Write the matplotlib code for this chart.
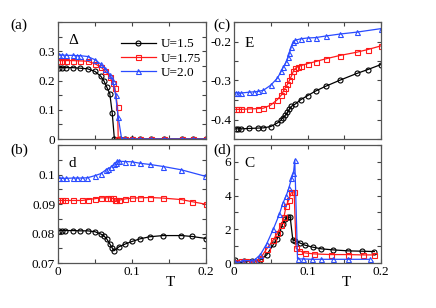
import matplotlib
matplotlib.use("Agg")
import matplotlib.pyplot as plt
from matplotlib.ticker import MultipleLocator

plt.rcParams['font.family'] = ['Liberation Serif', 'DejaVu Serif']
plt.rcParams['axes.unicode_minus'] = False
plt.rcParams['mathtext.fontset'] = 'stix'

labels_U = ["U=1.5", "U=1.75", "U=2.0"]
colors = ["black", "#ff1a1a", "#2a4bff"]
markers = ["o", "s", "^"]

# Panel (a): Delta
Ta = [
    [0.002, 0.006, 0.011, 0.02, 0.03, 0.04, 0.05, 0.058, 0.062, 0.066, 0.07, 0.0733, 0.0762,
     0.0833, 0.0909, 0.1, 0.111, 0.125, 0.143, 0.167, 0.182, 0.2],
    [0.002, 0.005, 0.011, 0.02, 0.03, 0.04, 0.05, 0.058, 0.064, 0.07, 0.074, 0.077, 0.0805, 0.0814,
     0.0909, 0.1, 0.111, 0.125, 0.143, 0.167, 0.182, 0.2],
    [0.002, 0.006, 0.011, 0.02, 0.025, 0.03, 0.04, 0.05, 0.058, 0.064, 0.07, 0.074, 0.0778, 0.0814,
     0.086, 0.0909, 0.1, 0.111, 0.125, 0.143, 0.167, 0.182, 0.2],
]
Da = [
    [0.244, 0.244, 0.244, 0.244, 0.242, 0.240, 0.231, 0.214, 0.199, 0.177, 0.155, 0.088, 0,
     0, 0, 0, 0, 0, 0, 0, 0, 0],
    [0.268, 0.268, 0.268, 0.268, 0.267, 0.266, 0.257, 0.246, 0.232, 0.213, 0.191, 0.174, 0.108, 0,
     0, 0, 0, 0, 0, 0, 0, 0],
    [0.287, 0.287, 0.286, 0.286, 0.285, 0.285, 0.282, 0.271, 0.255, 0.24, 0.22, 0.2, 0.15, 0.074,
     0, 0, 0, 0, 0, 0, 0, 0, 0],
]

# Panel (b): d
Tb = [
    [0.001, 0.0054, 0.01, 0.02, 0.03, 0.04, 0.05, 0.058, 0.0624, 0.066, 0.0697, 0.0733, 0.076,
     0.0824, 0.0905, 0.1, 0.111, 0.124, 0.142, 0.1665, 0.181, 0.2],
    [0.001, 0.0054, 0.01, 0.02, 0.033, 0.04, 0.05, 0.058, 0.066, 0.0705, 0.074, 0.0765, 0.079,
     0.0825, 0.09, 0.1, 0.111, 0.124, 0.142, 0.1665, 0.181, 0.2],
    [0.001, 0.0054, 0.0109, 0.02, 0.0253, 0.0326, 0.0398, 0.0498, 0.0579, 0.0643, 0.0679, 0.0715,
     0.0751, 0.0778, 0.0796, 0.0824, 0.0905, 0.1, 0.1109, 0.1244, 0.1425, 0.1665, 0.1991],
]
Db = [
    [0.0810, 0.0810, 0.0810, 0.0810, 0.0809, 0.0809, 0.0806, 0.0798, 0.0791, 0.0781, 0.0766,
     0.0751, 0.0742, 0.0755, 0.0764, 0.0773, 0.0782, 0.0789, 0.0793, 0.0793, 0.0790, 0.0783],
    [0.0912, 0.0912, 0.0912, 0.0912, 0.0912, 0.0915, 0.0918, 0.0921, 0.0921, 0.0921, 0.0919,
     0.0915, 0.0912, 0.0913, 0.0917, 0.0920, 0.0921, 0.0922, 0.0920, 0.0915, 0.0908, 0.0899],
    [0.0987, 0.0987, 0.0987, 0.0988, 0.0988, 0.0988, 0.0989, 0.0996, 0.1003, 0.1015, 0.1020,
     0.1025, 0.1034, 0.1040, 0.1045, 0.1045, 0.1044, 0.1043, 0.1038, 0.1034, 0.1027, 0.1016, 0.0994],
]

# Panel (c): E
Tc = [
    [0.0023, 0.0055, 0.01, 0.0205, 0.0327, 0.04, 0.05, 0.059, 0.0636, 0.066, 0.07, 0.0727, 0.0755,
     0.078, 0.0836, 0.091, 0.1, 0.111, 0.1245, 0.1436, 0.167, 0.182, 0.2],
    [0.0023, 0.0055, 0.01, 0.0205, 0.0327, 0.04, 0.05, 0.059, 0.0645, 0.0673, 0.07, 0.0727, 0.0755,
     0.078, 0.0809, 0.0836, 0.0864, 0.091, 0.1, 0.111, 0.1245, 0.1436, 0.167, 0.182, 0.2],
    [0.0023, 0.0055, 0.01, 0.0205, 0.0273, 0.0327, 0.04, 0.05, 0.059, 0.0645, 0.0673, 0.0709,
     0.0736, 0.0755, 0.078, 0.0809, 0.0836, 0.091, 0.1, 0.111, 0.1245, 0.1436, 0.167, 0.2],
]
Ec = [
    [-0.424, -0.424, -0.424, -0.423, -0.422, -0.4215, -0.418, -0.409, -0.4025, -0.396, -0.389,
     -0.382, -0.373, -0.3665, -0.36, -0.349, -0.339, -0.327, -0.315, -0.2996, -0.282, -0.272, -0.259],
    [-0.374, -0.374, -0.374, -0.373, -0.372, -0.371, -0.363, -0.349, -0.337, -0.327, -0.318,
     -0.31, -0.2996, -0.289, -0.2755, -0.2687, -0.2652, -0.262, -0.2567, -0.2515, -0.2446, -0.236,
     -0.2275, -0.2206, -0.2112],
    [-0.331, -0.332, -0.332, -0.330, -0.329, -0.328, -0.325, -0.312, -0.294, -0.2755, -0.265,
     -0.253, -0.241, -0.229, -0.2137, -0.2017, -0.1966, -0.193, -0.191, -0.19, -0.186, -0.181,
     -0.176, -0.167],
]

# Panel (d): C
Td = [
    [0.002, 0.007, 0.014, 0.025, 0.036, 0.0445, 0.0536, 0.059, 0.062, 0.066, 0.07, 0.0736, 0.0764,
     0.08, 0.0836, 0.09, 0.0964, 0.107, 0.119, 0.1345, 0.155, 0.174, 0.191],
    [0.002, 0.009, 0.017, 0.026, 0.036, 0.0445, 0.0536, 0.059, 0.0645, 0.068, 0.0709, 0.0745,
     0.0782, 0.0818, 0.0845, 0.0882, 0.0964, 0.109, 0.132, 0.155, 0.175, 0.191],
    [0.002, 0.0055, 0.012, 0.023, 0.028, 0.036, 0.0445, 0.0536, 0.0618, 0.0664, 0.0709, 0.0745,
     0.0782, 0.0809, 0.0827, 0.0864, 0.0945, 0.1055, 0.119, 0.1345, 0.155, 0.1845],
]
Cd = [
    [0.18, -0.06, 0.1, 0.12, 0.18, 0.48, 1.1, 1.44, 1.8, 2.3, 2.62, 2.7, 2.74, 1.38, 1.3, 1.18,
     1.06, 0.94, 0.84, 0.78, 0.72, 0.7, 0.68],
    [0.04, 0.1, 0.14, 0.04, 0.28, 0.84, 1.38, 1.78, 2.26, 2.74, 3.38, 3.74, 4.22, 4.22, 0.88,
     0.74, 0.6, 0.54, 0.5, 0.5, 0.48, 0.48],
    [0.06, 0.02, 0.14, 0.14, 0.18, 0.5, 1.14, 2.02, 2.9, 3.54, 3.98, 4.42, 5.02, 5.34, 6.1, 0.24,
     0.24, 0.22, 0.22, 0.22, 0.22, 0.22],
]

fig = plt.figure(figsize=(4.36, 3.08), dpi=100)
W, H = 436.0, 308.0

def make_ax(x0, x1, ytop, ybot):
    return fig.add_axes([x0 / W, 1 - ybot / H, (x1 - x0) / W, (ybot - ytop) / H])

ax_a = make_ax(58, 206, 22, 139)
ax_b = make_ax(58, 206, 145, 263)
ax_c = make_ax(234, 381, 22, 139)
ax_d = make_ax(234, 381, 145, 263)

def plot_series(ax, Ts, Vs, lab=False):
    for i in range(3):
        ax.plot(Ts[i], Vs[i], color=colors[i], marker=markers[i], mfc='none', mec=colors[i],
                ms=3.6, mew=0.8, lw=0.9, label=labels_U[i] if lab else None)

plot_series(ax_a, Ta, Da, lab=True)
plot_series(ax_b, Tb, Db)
plot_series(ax_c, Tc, Ec)
plot_series(ax_d, Td, Cd)

for ax in (ax_a, ax_b, ax_c, ax_d):
    ax.set_xlim(0, 0.2)
    ax.xaxis.set_major_locator(MultipleLocator(0.1))
    ax.xaxis.set_minor_locator(MultipleLocator(0.05))
    ax.tick_params(which='both', direction='in', top=True, right=True, labelsize=9.5,
                   length=3, width=0.8, color='#444444', pad=2)
    for s in ax.spines.values():
        s.set_linewidth(0.9)
        s.set_color('#555555')

for ax in (ax_a, ax_c):
    ax.tick_params(labelbottom=False)
for ax in (ax_b, ax_d):
    ax.set_xticks([0, 0.1, 0.2], labels=["0", "0.1", "0.2"])

ax_a.set_ylim(0, 0.4)
ax_a.set_yticks([0, 0.1, 0.2, 0.3], labels=["0", "0.1", "0.2", "0.3"])
ax_a.yaxis.set_minor_locator(MultipleLocator(0.05))

ax_b.set_ylim(0.07, 0.11)
ax_b.set_yticks([0.07, 0.08, 0.09, 0.1], labels=["0.07", "0.08", "0.09", "0.1"])
ax_b.yaxis.set_minor_locator(MultipleLocator(0.005))

ax_c.set_ylim(-0.45, -0.15)
ax_c.set_yticks([-0.4, -0.3, -0.2], labels=["-0.4", "-0.3", "-0.2"])
ax_c.yaxis.set_minor_locator(MultipleLocator(0.05))

ax_d.set_ylim(0, 7)
ax_d.set_yticks([0, 2, 4, 6], labels=["0", "2", "4", "6"])
ax_d.yaxis.set_minor_locator(MultipleLocator(1))

ax_a.text(0.07, 0.84, "Δ", transform=ax_a.transAxes, fontsize=11, va='center', ha='left')
ax_b.text(0.07, 0.84, "d", transform=ax_b.transAxes, fontsize=11, va='center', ha='left')
ax_c.text(0.07, 0.82, "E", transform=ax_c.transAxes, fontsize=11, va='center', ha='left')
ax_d.text(0.07, 0.84, "C", transform=ax_d.transAxes, fontsize=11, va='center', ha='left')

fig.text(10 / W, 1 - 25 / H, "(a)", fontsize=11, va='center', ha='left')
fig.text(10 / W, 1 - 150 / H, "(b)", fontsize=11, va='center', ha='left')
fig.text(213 / W, 1 - 25 / H, "(c)", fontsize=11, va='center', ha='left')
fig.text(213 / W, 1 - 150 / H, "(d)", fontsize=11, va='center', ha='left')

fig.text(170 / W, 1 - 282 / H, "T", fontsize=11, va='center', ha='center')
fig.text(346 / W, 1 - 282 / H, "T", fontsize=11, va='center', ha='center')

ax_a.legend(loc='upper right', bbox_to_anchor=(1.02, 0.93), frameon=False, fontsize=9.5,
            handlelength=2.6, handletextpad=0.4, labelspacing=0.15, borderaxespad=0.2)

fig.savefig("out.png", dpi=100)
